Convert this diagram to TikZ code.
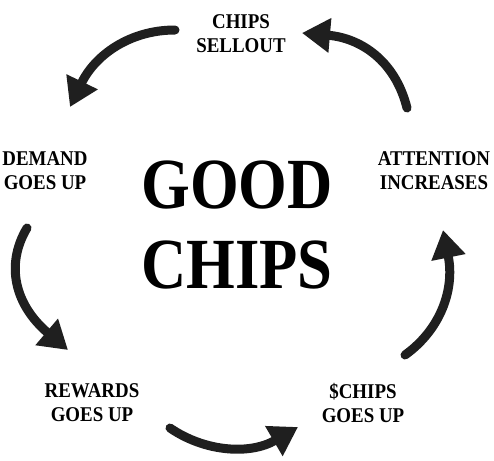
\documentclass[tikz,border=0pt]{standalone}
\usepackage{fontspec}
\setmainfont{Liberation Serif}
\newfontfamily\labelfont[FakeStretch=0.9]{Liberation Serif}
\newfontfamily\titlefont[FakeStretch=0.87]{Liberation Serif}
\usetikzlibrary{arrows.meta}
\definecolor{ink}{HTML}{1F1F1F}
\tikzset{
  lbl/.style={align=center, inner sep=0pt, font=\labelfont\bfseries\fontsize{21}{24}\selectfont},
  ttl/.style={align=center, inner sep=0pt, font=\titlefont\bfseries\fontsize{72}{80}\selectfont},
  cyc/.style={draw=ink, line width=9pt, line cap=round,
    -{Triangle[length=28pt, width=33pt, fill=ink]}}
}
\begin{document}
\begin{tikzpicture}[x=1pt,y=-1pt]
\useasboundingbox[fill=white] (0,0) rectangle (494,460);
% labels
\node[lbl] (sellout) at (241,34) {CHIPS\\SELLOUT};
\node[lbl] (demand) at (45,171) {DEMAND\\GOES UP};
\node[lbl] (attention) at (434,171) {ATTENTION\\INCREASES};
\node[lbl] (rewards) at (92,403) {REWARDS\\GOES UP};
\node[lbl] (schips) at (363,403) {\$CHIPS\\GOES UP};
\node[ttl] (title) at (237,225) {GOOD\\CHIPS};
% arrow end points
\coordinate (a1s) at (175,30);  \coordinate (a1e) at (70,107);
\coordinate (a2s) at (407,108); \coordinate (a2e) at (302,33);
\coordinate (a3s) at (27,228);  \coordinate (a3e) at (68,350);
\coordinate (a4s) at (170,428); \coordinate (a4e) at (298,427);
\coordinate (a5s) at (405,355); \coordinate (a5e) at (443,230);
% arrows
\draw[cyc] (a1s) .. controls (130,30) and (95,55) .. (a1e);
\draw[cyc] (a2s) .. controls (395,60) and (360,38) .. (a2e);
\draw[cyc] (a3s) .. controls (5,265) and (15,305) .. (a3e);
\draw[cyc] (a4s) .. controls (205,452) and (250,455) .. (a4e);
\draw[cyc] (a5s) .. controls (440,330) and (455,290) .. (a5e);
\end{tikzpicture}
\end{document}
